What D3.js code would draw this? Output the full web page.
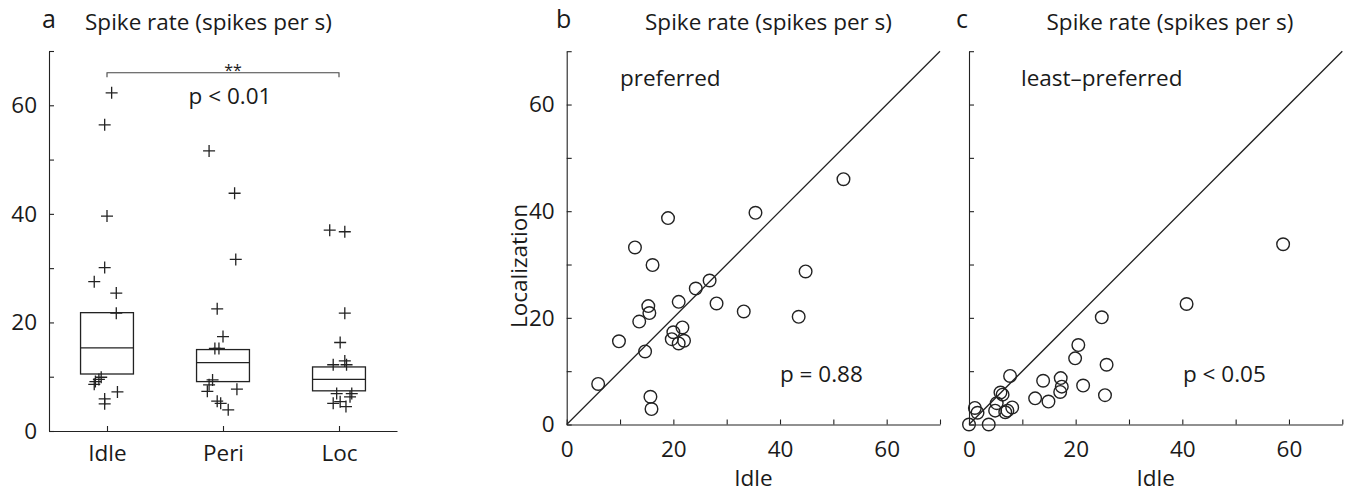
<!DOCTYPE html>
<html>
<head>
<meta charset="utf-8">
<script src="https://cdn.jsdelivr.net/npm/d3@7"></script>
<style>
  html, body { margin: 0; padding: 0; background: #fff; }
  svg { display: block; }
  text { font-family: "Open Sans", "Noto Sans", sans-serif; fill: #1a1a1a; }
</style>
</head>
<body>
<svg id="chart" width="1352" height="493"></svg>
<script>
// ---- Panel a: spike rate per condition (box + individual units) ----
const conditions = ["Idle", "Peri", "Loc"];
const boxLow    = [10.5, 9.1, 7.4];
const boxMedian = [15.3, 12.6, 9.5];
const boxHigh   = [21.8, 15.0, 11.8];

const idleRates = [62.3, 56.4, 39.6, 30.1, 27.5, 25.4, 21.7, 9.9, 9.5, 9.1, 8.6, 7.2, 5.9, 5.0];
const idleJitter = [0.04, -0.02, 0.0, -0.02, -0.11, 0.08, 0.08, -0.05, -0.07, -0.10, -0.11, 0.09, -0.02, -0.02];
const periRates = [51.6, 43.8, 31.6, 22.5, 17.4, 15.2, 15.2, 9.4, 8.5, 7.3, 7.7, 5.5, 5.1, 3.9];
const periJitter = [-0.12, 0.10, 0.11, -0.05, 0.0, -0.07, -0.035, -0.09, -0.12, -0.135, 0.12, -0.05, -0.02, 0.045];
const locRates = [37.0, 36.7, 21.7, 16.3, 12.9, 12.2, 12.2, 6.9, 6.9, 6.3, 5.4, 5.1, 4.5];
const locJitter = [-0.08, 0.05, 0.05, 0.01, 0.05, 0.065, -0.05, -0.02, 0.11, 0.095, 0.01, -0.05, 0.06];

// ---- Panels b, c: idle vs localization rate ----
const prefIdle = [51.9, 35.4, 19.0, 12.8, 16.1, 44.8, 26.8, 24.2, 21.0, 28.1, 15.3, 15.5, 33.2, 43.5, 13.6, 21.7, 20.0, 19.7, 21.0, 22.0, 9.8, 14.7, 5.9, 15.7, 15.9];
const prefLoc  = [46.0, 39.7, 38.7, 33.2, 29.9, 28.7, 27.0, 25.5, 23.0, 22.7, 22.2, 20.9, 21.2, 20.2, 19.3, 18.2, 17.3, 16.0, 15.2, 15.7, 15.6, 13.7, 7.6, 5.2, 2.9];

const leastIdle = [58.9, 40.8, 24.9, 20.5, 19.9, 25.8, 7.7, 13.9, 17.2, 17.4, 17.1, 21.4, 25.5, 12.4, 14.9, 5.9, 6.3, 5.2, 4.9, 6.8, 7.2, 8.1, 1.1, 1.6, 0, 3.7];
const leastLoc  = [33.8, 22.6, 20.1, 14.9, 12.4, 11.2, 9.1, 8.2, 8.7, 7.1, 6.1, 7.3, 5.5, 4.9, 4.3, 6.0, 5.6, 4.0, 2.6, 2.3, 2.6, 3.2, 3.1, 2.2, 0, 0];

const rateTicks = [0, 10, 20, 30, 40, 50, 60, 70];
const rateLabels = [0, 20, 40, 60];

const svg = d3.select("#chart");
const INK = "#222";
const FS = 22.5;

function styleAxis(g) {
  g.select(".domain").attr("stroke", INK).attr("stroke-width", 1.1);
  g.selectAll(".tick line").attr("stroke", INK).attr("stroke-width", 1.1);
  g.selectAll(".tick text").attr("font-size", FS).attr("fill", "#1a1a1a")
    .attr("font-family", '"Open Sans", "Noto Sans", sans-serif');
}
const fmtRate = d => rateLabels.includes(d) ? d : "";

// ===== Panel a =====
{
  const x = d3.scaleLinear().domain([0.5, 3.5]).range([49, 397]);
  const y = d3.scaleLinear().domain([0, 70]).range([431, 51]);
  const g = svg.append("g");

  g.append("g").attr("transform", `translate(0,${y(0)})`)
    .call(d3.axisBottom(x).tickValues([1, 2, 3]).tickFormat(d => conditions[d - 1])
      .tickSizeInner(-5).tickSizeOuter(0).tickPadding(14))
    .call(styleAxis)
    .call(a => a.selectAll(".tick text").attr("dy", "0.71em"));

  g.append("g").attr("transform", `translate(${x(0.5)},0)`)
    .call(d3.axisLeft(y).tickValues(rateTicks).tickFormat(fmtRate)
      .tickSizeInner(-5).tickSizeOuter(0).tickPadding(12))
    .call(styleAxis);

  const halfW = 0.228;
  conditions.forEach((c, i) => {
    const cx = i + 1;
    g.append("rect")
      .attr("x", x(cx - halfW)).attr("width", x(cx + halfW) - x(cx - halfW))
      .attr("y", y(boxHigh[i])).attr("height", y(boxLow[i]) - y(boxHigh[i]))
      .attr("fill", "none").attr("stroke", INK).attr("stroke-width", 1.3);
    g.append("line")
      .attr("x1", x(cx - halfW)).attr("x2", x(cx + halfW))
      .attr("y1", y(boxMedian[i])).attr("y2", y(boxMedian[i]))
      .attr("stroke", INK).attr("stroke-width", 1.3);
  });

  const groups = [[idleRates, idleJitter], [periRates, periJitter], [locRates, locJitter]];
  const s = 6;
  groups.forEach(([vals, jit], i) => {
    g.append("g").selectAll("path").data(vals).join("path")
      .attr("transform", (d, k) => `translate(${x(i + 1 + jit[k])},${y(d)})`)
      .attr("d", `M${-s},0H${s}M0,${-s}V${s}`)
      .attr("stroke", INK).attr("stroke-width", 1.3).attr("fill", "none");
  });

  // significance bracket Idle vs Loc
  const by = 72.7;
  g.append("path")
    .attr("d", `M${x(1)},${by + 4.5}V${by}H${x(3)}V${by + 4.5}`)
    .attr("fill", "none").attr("stroke", "#444").attr("stroke-width", 1.1);
  g.append("text").attr("x", 233).attr("y", 76).attr("text-anchor", "middle")
    .attr("font-size", 16).attr("fill", "#555").text("**");
  g.append("text").attr("x", 230).attr("y", 104).attr("text-anchor", "middle")
    .attr("font-size", FS).text("p < 0.01");

  svg.append("text").attr("x", 42).attr("y", 28).attr("font-size", 25).text("a");
  svg.append("text").attr("x", 208.5).attr("y", 30).attr("text-anchor", "middle")
    .attr("font-size", FS).text("Spike rate (spikes per s)");
}

// ===== Panels b and c =====
function scatterPanel(opts) {
  const x = d3.scaleLinear().domain([0, 70]).range([opts.left, opts.left + 373.3]);
  const y = d3.scaleLinear().domain([0, 70]).range([424.5, 51.2]);
  const g = svg.append("g");

  g.append("g").attr("transform", `translate(0,${y(0)})`)
    .call(d3.axisBottom(x).tickValues(rateTicks).tickFormat(fmtRate)
      .tickSizeInner(-5).tickSizeOuter(0).tickPadding(17))
    .call(styleAxis)
    .call(a => a.selectAll(".tick text").attr("dy", "0.71em"));

  g.append("g").attr("transform", `translate(${x(0)},0)`)
    .call(d3.axisLeft(y).tickValues(rateTicks).tickFormat(opts.yLabels ? fmtRate : () => "")
      .tickSizeInner(-5).tickSizeOuter(0).tickPadding(12))
    .call(styleAxis);

  // unity line
  g.append("line")
    .attr("x1", x(0)).attr("y1", y(0)).attr("x2", x(70)).attr("y2", y(70))
    .attr("stroke", INK).attr("stroke-width", 1.3);

  g.append("g").selectAll("circle").data(opts.xs).join("circle")
    .attr("cx", d => x(d)).attr("cy", (d, i) => y(opts.ys[i]))
    .attr("r", 6.3).attr("fill", "none").attr("stroke", INK).attr("stroke-width", 1.4);

  g.append("text").attr("x", opts.tagX).attr("y", 86).attr("font-size", FS).text(opts.tag);
  g.append("text").attr("x", opts.pX).attr("y", 382).attr("font-size", FS).text(opts.p);
  g.append("text").attr("x", x(35)).attr("y", 486).attr("text-anchor", "middle")
    .attr("font-size", FS).text("Idle");

  svg.append("text").attr("x", opts.letterX).attr("y", 28).attr("font-size", 25).text(opts.letter);
  svg.append("text").attr("x", opts.titleX).attr("y", 30).attr("text-anchor", "middle")
    .attr("font-size", FS).text("Spike rate (spikes per s)");
}

scatterPanel({ left: 566.7, xs: prefIdle, ys: prefLoc, yLabels: true,
  tag: "preferred", tagX: 620, p: "p = 0.88", pX: 780,
  letter: "b", letterX: 556, titleX: 768.5 });
scatterPanel({ left: 969, xs: leastIdle, ys: leastLoc, yLabels: false,
  tag: "least\u2013preferred", tagX: 1021, p: "p < 0.05", pX: 1183,
  letter: "c", letterX: 956, titleX: 1170 });

svg.append("text")
  .attr("transform", "translate(527,266) rotate(-90)")
  .attr("text-anchor", "middle").attr("font-size", FS).text("Localization");
</script>
</body>
</html>
